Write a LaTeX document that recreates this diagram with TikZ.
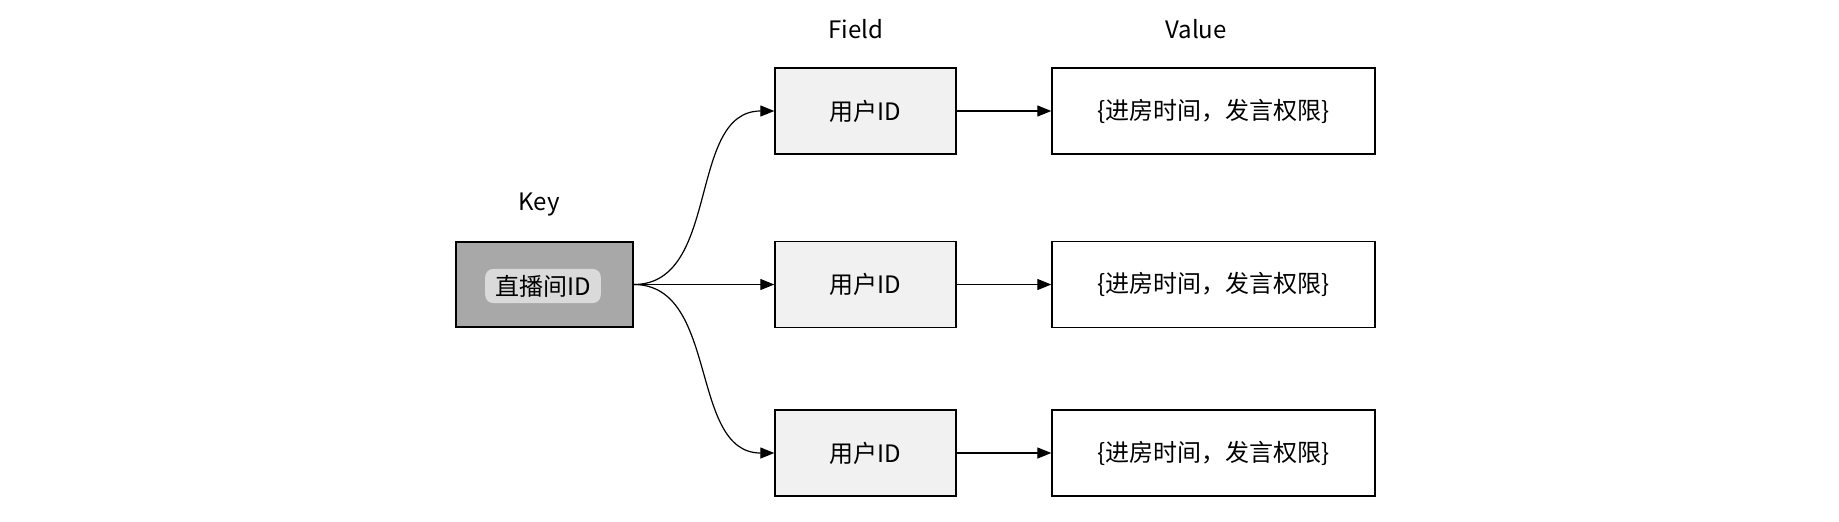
\documentclass[tikz,border=0pt]{standalone}
\usepackage{fontspec}
\setmainfont{Noto Sans CJK SC}
\usetikzlibrary{arrows.meta}
\definecolor{keyfill}{HTML}{A8A8A8}
\definecolor{keytext}{HTML}{DADADA}
\definecolor{fieldfill}{HTML}{F1F1F1}
\tikzset{
  box/.style={draw=black, line width=0.7pt, inner sep=0pt, font=\fontsize{12}{14}\selectfont},
  keybox/.style={box, fill=keyfill, minimum width=88.5pt, minimum height=42.5pt},
  fieldbox/.style={box, fill=fieldfill, minimum width=90.5pt, minimum height=43pt},
  valuebox/.style={box, fill=white, minimum width=161.5pt, minimum height=43pt},
  hdr/.style={font=\fontsize{12}{14}\selectfont},
  conn/.style={line width=0.6pt, -{Triangle[length=7pt,width=5.5pt]}},
}
\begin{document}
\begin{tikzpicture}[x=0.5pt,y=-0.5pt]
\useasboundingbox (0,0) rectangle (1839,521);
\node[hdr] (lk) at (539,205) {Key};
\node[hdr] (lf) at (856,29) {Field};
\node[hdr] (lv) at (1196,29) {Value};
\node[keybox] (key) at (544.5,284.5) {};
\node[fill=keytext, rounded corners=4pt, inner xsep=5pt, inner ysep=3pt, font=\fontsize{12}{14}\selectfont] (keyt) at (543,286) {直播间ID};
\node[fieldbox] (f1) at (865.5,111) {用户ID};
\node[fieldbox] (f2) at (865.5,284.5) {用户ID};
\node[fieldbox] (f3) at (865.5,453) {用户ID};
\node[valuebox] (v1) at (1213.5,111) {\{进房时间，发言权限\}};
\node[valuebox] (v2) at (1213.5,284.5) {\{进房时间，发言权限\}};
\node[valuebox] (v3) at (1213.5,453) {\{进房时间，发言权限\}};
\draw[conn] (key.east) to[out=0,in=180] (f1.west);
\draw[conn] (key.east) -- (f2.west);
\draw[conn] (key.east) to[out=0,in=180] (f3.west);
\draw[conn] (f1) -- (v1);
\draw[conn] (f2) -- (v2);
\draw[conn] (f3) -- (v3);
\end{tikzpicture}
\end{document}
